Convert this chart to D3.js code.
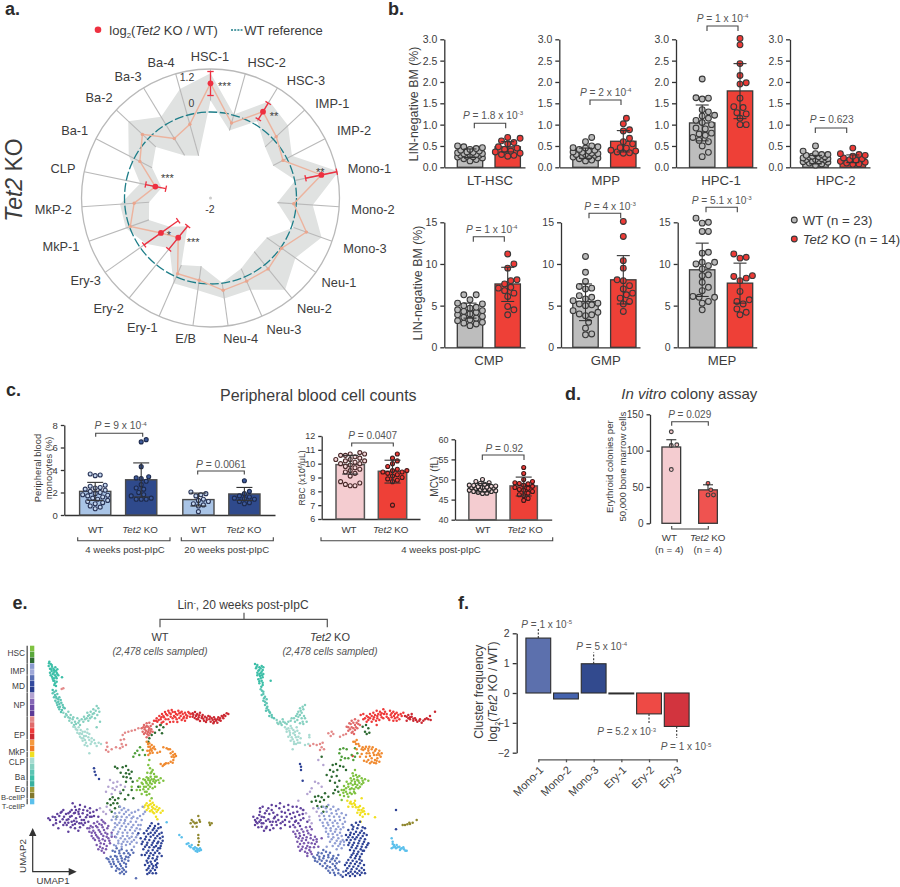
<!DOCTYPE html>
<html><head><meta charset="utf-8">
<script src="https://cdn.jsdelivr.net/npm/d3@7"></script>
<style>html,body{margin:0;padding:0;background:#fff}svg{display:block;font-family:"Liberation Sans",Arial,sans-serif}</style>
</head><body><div id="c"></div>
<script>
// ---------- a. radial ----------
const radialCats=["HSC-1","HSC-2","HSC-3","IMP-1","IMP-2","Mono-1","Mono-2","Mono-3","Neu-1","Neu-2","Neu-3","Neu-4","E/B","Ery-1","Ery-2","Ery-3","MkP-1","MkP-2","CLP","Ba-1","Ba-2","Ba-3","Ba-4"];
const radialMean=[.80,-.19,.42,.11,-.10,.76,-.06,.44,.03,.15,.13,.20,-.07,-.08,-.81,-.59,-.02,-.22,-.69,-.15,.20,-.38,-.22];
const radialUpper=[1.08,.02,.76,.56,.16,1.25,.46,.89,.50,.90,.39,.43,.20,.19,-.49,-.16,.11,.13,-.33,.17,.74,.25,.76];
const radialLower=[.32,-.37,.11,-.26,-.36,.02,-.44,.06,-.40,-.39,-.21,-.01,-.40,-.30,-1.15,-.84,-.48,-.57,-.84,-.47,-.26,-.84,-.98];
const radialSig=[["HSC-1",.46,1.13,"***"],["HSC-3",.17,.70,"**"],["Mono-1",.31,1.2,"**"],["Ery-2",-1.16,-.46,"***"],["Ery-3",-1.08,-.11,"*"],["CLP",-.94,-.46,"***"]];
// ---------- b. bars ----------
const ltWT=[.15,.18,.2,.22,.24,.25,.26,.28,.28,.3,.3,.32,.32,.34,.35,.36,.38,.4,.42,.44,.46,.48,.5];
const ltKO=[.26,.28,.3,.33,.36,.38,.42,.45,.48,.55,.58,.62,.68,.7];
const mppWT=[.15,.17,.2,.22,.24,.25,.26,.28,.3,.3,.32,.33,.35,.36,.38,.4,.42,.45,.46,.48,.5,.6,.7];
const mppKO=[.33,.34,.36,.38,.4,.45,.46,.55,.6,.68,.85,.88,1.02,1.15];
const hpc1WT=[.25,.35,.5,.6,.63,.7,.75,.78,.8,.9,.92,1.0,1.05,1.1,1.15,1.2,1.22,1.3,1.35,1.6,1.62,1.63,2.07];
const hpc1KO=[1.0,1.0,1.15,1.25,1.28,1.4,1.42,1.62,1.95,1.98,2.15,2.43,2.87,3.02];
const hpc2WT=[.05,.08,.1,.12,.13,.15,.15,.17,.18,.18,.2,.2,.22,.24,.25,.25,.26,.28,.3,.3,.32,.38,.5];
const hpc2KO=[.07,.08,.1,.12,.14,.17,.18,.2,.22,.26,.28,.3,.32,.45];
const cmpWT=[2.6,2.8,2.9,3,3.2,3.3,3.5,3.6,3.7,3.9,4,4.2,4.3,4.4,4.5,4.7,4.8,5,5.2,5.3,5.7,6.3,6.3];
const cmpKO=[3.9,4.5,4.9,6.1,6.5,6.8,7.1,7.2,7.6,8,8.1,9.5,10,11.2];
const gmpWT=[1.5,1.6,2.3,3.0,3.8,3.9,4.0,4.2,4.4,5,5.1,5.2,5.3,5.6,5.8,6,6.2,7,7.1,7.3,7.9,9,10.9];
const gmpKO=[4.3,5.2,5.5,5.9,6.3,6.5,7,7.4,8,8.1,9.5,10.4,13.3,15.1];
const mepWT=[4.5,5.3,5.5,6,6,6.1,6.8,7.2,7.8,8.6,8.7,9.4,9.8,10,10.2,10.2,11.3,11.4,13.9,13.9,14.9,15,15.5];
const mepKO=[3.9,4.2,4.6,5.2,5.5,5.7,6.7,8,8.3,8.5,8.6,10.7,10.8,11.2];
const bNames=["LT-HSC","MPP","HPC-1","HPC-2","CMP","GMP","MEP"];
const bMeans=[[.33,.48],[.33,.61],[1.04,1.79],[.18,.20],[4.4,7.6],[5.5,8.1],[9.3,7.7]];
const bLow=[[.23,.36],[.21,.36],[.62,1.14],[.08,.11],[3.5,5.5],[3.2,5.2],[6.1,5.3]];
const bHigh=[[.43,.60],[.45,.86],[1.46,2.43],[.28,.29],[5.3,9.6],[7.6,11],[12.5,10.1]];
const bP=["<i>P</i> = 1.8 x 10<sup>-3</sup>","<i>P</i> = 2 x 10<sup>-4</sup>","<i>P</i> = 1 x 10<sup>-4</sup>","<i>P</i> = 0.623","<i>P</i> = 1 x 10<sup>-4</sup>","<i>P</i> = 4 x 10<sup>-3</sup>","<i>P</i> = 5.1 x 10<sup>-3</sup>"];
// ---------- c. peripheral blood ----------
const monoGroups=["WT","<i>Tet2</i> KO","WT ","<i>Tet2</i> KO "];
const monoMeans=[2.1,3.13,1.37,1.87], monoLow=[1.3,1.6,.8,1.3], monoHigh=[2.9,4.63,1.95,2.45];
const mono4WT=[.55,.7,.8,1,1.1,1.2,1.3,1.4,1.5,1.6,1.7,1.75,1.8,1.9,2,2.1,2.2,2.3,2.4,2.45,2.55,2.65,3.5,3.55,3.65];
const mono4KO=[1.4,1.4,1.4,1.5,1.7,1.8,2,2.3,2.4,2.7,3,3.25,3.3,3.4,4.3,6.5,6.7];
const mono20WT=[.3,.8,.9,1.0,1.2,1.3,1.4,1.7,1.8,1.9,2.05];
const mono20KO=[1,1.1,1.2,1.4,1.45,1.5,1.6,1.7,1.9,2.1,3.05];
const rbcMeans=[9.93,9.45], rbcLow=[9.25,8.6], rbcHigh=[10.6,10.25];
const rbcWT=[8.4,8.4,8.5,8.6,8.7,9.1,9.3,9.4,9.5,9.6,9.7,9.8,9.9,10,10,10.1,10.2,10.2,10.3,10.3,10.4,10.5,10.6,10.6,10.7,10.7,10.8];
const rbcKO=[7,8.7,8.8,8.9,9.0,9.1,9.2,9.3,9.4,9.4,9.5,9.5,9.6,9.8,10,10.2,10.4,10.7];
const mcvMeans=[47.9,48.4], mcvLow=[46.9,45.9], mcvHigh=[49,50.6];
const mcvWT=[46.5,46.6,46.8,47,47,47.2,47.3,47.4,47.5,47.6,47.8,47.9,48,48,48.1,48.2,48.3,48.4,48.5,48.6,48.8,49,49.2,49.5,50];
const mcvKO=[44.8,45.3,46,46.2,46.6,47,47.3,47.5,47.8,48,48.3,48.6,48.9,49,49.2,49.5,50,51.5,53];
// ---------- d. colony ----------
const colMeans=[105,46], colLow=[105,46], colHigh=[115,53];
const colWT=[74,107,108,126], colKO=[39,39,46,55];
// ---------- f. cluster frequency ----------
const freqCats=["Mono-1","Mono-2","Mono-3","Ery-1","Ery-2","Ery-3"];
const freqVals=[1.84,-.2,.98,-.03,-.7,-1.12];
const freqColors=["#5c70ad","#4563ae","#324a8e","#222222","#ee4a45","#d2343e"];
// ---------- e. UMAP embedding, one small list per cluster ----------
const legendGroups=[["HSC",3],["IMP",2],["MD",3],["NP",4],["EP",4],["MkP",2],["CLP",1],["Ba",4],["Eo",1],["B-cellP",2],["T-cellP",1]];
const legendColors=["#7fc241","#5aa83c","#2e6a32","#8b9bd0","#9fa8d8","#5a6fb4","#33499e","#2a3d8f","#b3a3d1","#8567b5","#6d4aa6","#5b3a96","#e38a8a","#e06a6a","#ee3a3a","#cc2a33","#f59a3f","#f07a25","#f0e021","#a8dbd1","#85d0c0","#5cc4b3","#3dbfa8","#38b0a0","#a09a3a","#80772d","#5bc0ec"];
const wtBa4=[[148,215],[152,222],[146,228],[156,230],[150,236],[160,236],[166,232],[172,238],[155,243],[163,245],[170,248],[150,248],[158,252],[165,256],[175,256],[156,260],[162,265],[170,265],[186,262],[160,272],[165,280],[168,288],[158,300],[147,220],[155,225],[162,240],[153,238],[168,242],[160,250],[172,252],[152,256],[168,260],[163,272],[170,275],[158,266],[163,285]];
const wtBa3=[[158,310],[165,315],[172,312],[162,322],[170,325],[178,322],[166,332],[175,335],[182,330],[172,345],[180,350],[188,345],[178,358],[186,360],[194,355],[163,306],[168,320],[175,328],[170,338],[178,342],[184,338],[175,352],[190,352],[183,366],[168,302]];
const wtBa2=[[190,368],[198,372],[205,365],[195,380],[205,382],[212,375],[208,392],[218,388],[225,395],[232,385],[228,402],[238,392],[245,388],[252,380],[260,385],[268,375],[262,368],[272,365],[280,358],[290,348],[295,355],[282,370],[275,380],[298,365],[250,395],[240,405],[285,385],[300,395],[290,412],[200,376],[210,385],[220,382],[215,398],[222,405],[235,398],[255,388],[265,392],[270,385],[278,372],[287,362],[292,375],[264,378]];
const wtBa1=[[220,410],[228,418],[236,412],[242,420],[232,428],[246,432],[255,425],[262,418],[240,440],[250,445],[258,438],[268,432],[248,452],[258,458],[268,450],[275,445],[262,468],[272,462],[285,460],[296,458],[303,462],[268,490],[290,468],[225,412],[232,420],[248,425],[238,432],[252,438],[262,428],[245,445],[255,450],[265,442],[254,465],[275,455],[282,450],[240,430]];
const wtEry1=[[320,458],[322,470],[318,480],[325,485],[335,478],[348,472],[360,475],[365,462],[372,448],[368,435],[375,428],[385,425],[395,422],[405,420],[415,415],[368,470],[378,465],[362,450],[185,297],[190,295]];
const wtEry2=[[425,415],[432,405],[440,400],[448,398],[436,412],[444,410],[452,408],[458,402],[428,425],[438,422],[446,420],[454,418],[432,432],[442,432],[450,430],[440,442],[458,425],[430,412],[440,408],[448,415],[436,428],[444,426],[452,424],[446,436],[434,418]];
const wtEry3=[[462,392],[470,385],[478,378],[486,372],[495,366],[505,362],[515,360],[525,366],[535,362],[545,365],[555,368],[565,366],[472,395],[482,388],[492,382],[502,376],[512,372],[522,378],[532,374],[542,378],[552,380],[562,378],[572,372],[490,395],[505,388],[518,385],[530,388],[545,390],[480,405],[500,402],[540,368],[520,395],[468,392],[476,390],[484,382],[490,378],[498,372],[508,368],[518,366],[528,372],[538,370],[548,372],[558,374],[568,370],[497,388],[512,380],[526,382],[538,384],[550,385],[560,384],[570,380],[485,398],[510,396],[532,396],[555,392]];
const wtEry4=[[578,370],[585,366],[592,372],[600,368],[608,375],[578,380],[588,378],[596,382],[605,384],[615,380],[625,378],[635,385],[645,388],[655,382],[665,378],[672,375],[680,370],[685,372],[620,390],[632,395],[642,396],[652,398],[662,392],[670,385],[612,392],[600,393],[590,388],[658,390],[580,374],[590,374],[598,376],[606,380],[584,384],[594,388],[610,386],[620,384],[628,388],[638,390],[648,392],[660,385],[668,380],[676,378],[630,380],[642,382],[652,388],[618,396],[640,400]];
const wtHsc3=[[470,410],[482,405],[490,412],[478,420],[486,430],[465,428],[455,435],[448,445],[445,455],[345,530],[352,535],[368,532],[378,528],[385,540],[378,550],[388,552],[395,545],[380,562],[392,565],[370,560],[398,575],[362,548],[378,575],[330,628],[338,622],[345,630],[352,640],[340,640],[332,645],[358,650],[345,655],[322,640],[355,625],[375,628],[385,615],[395,600],[362,610],[370,600],[335,665],[350,680],[400,625],[415,590]];
const wtHsc2=[[405,490],[412,482],[420,472],[428,480],[418,495],[400,500],[435,495]];
const wtHsc1=[[448,510],[445,525],[450,535],[442,548],[455,545],[462,552],[470,560],[452,560],[440,562],[430,568],[418,565],[412,572],[425,578],[438,575],[450,572],[462,568],[475,570],[490,572],[482,565],[445,585],[455,582],[465,578],[432,590],[445,597],[420,590],[435,605],[425,612],[440,615],[410,600],[448,612],[455,625],[465,590],[458,540],[395,590],[435,570],[445,565],[455,568],[465,560],[478,578],[440,580],[450,578],[460,574],[428,582],[438,590],[450,590],[458,595],[430,598],[440,605],[420,600],[445,570],[468,572],[452,550]];
const wtClp=[[432,652],[440,640],[448,645],[456,650],[445,655],[455,660],[462,645],[470,650],[478,655],[488,662],[470,665],[462,670],[468,680],[472,688],[450,632],[440,660],[482,668],[458,638],[444,648],[452,642],[460,655],[466,658],[474,660],[450,664],[458,666],[436,646]];
const wtMkp=[[440,455],[448,460],[455,465],[445,470],[452,478],[462,470],[442,482],[450,490],[458,488],[445,495],[465,478],[472,488],[480,485],[490,472],[500,475],[510,478],[518,485],[525,492],[528,498],[515,500],[520,510],[518,518],[505,520],[495,522],[482,522],[488,528],[512,490],[444,462],[450,470],[458,475],[448,482],[455,482],[505,478],[520,495],[522,502],[512,515],[498,520],[492,524]];
const wtNp1=[[330,570],[340,578],[352,575],[325,590],[338,595],[350,590],[362,585],[318,605],[335,612],[375,590],[320,650],[330,660],[318,672],[310,665],[300,655],[345,600],[360,605]];
const wtNp4=[[158,680],[145,685],[172,672],[185,665],[168,690],[180,695],[192,680],[205,670],[215,660],[225,650],[240,645],[255,650],[270,655],[160,705],[175,715],[190,705],[200,690],[210,680],[222,670],[235,665],[248,670],[200,705],[215,695],[228,685],[240,680],[252,690],[262,675],[212,712],[225,702],[238,700],[250,705],[265,695],[280,665],[290,660],[218,640],[235,722],[275,680],[205,725],[295,680],[190,660],[150,690],[165,682],[178,678],[188,688],[195,698],[205,688],[215,678],[225,668],[238,658],[250,660],[262,662],[205,698],[218,705],[230,695],[245,690],[258,682],[210,665],[228,660],[198,672],[222,692],[236,672],[244,700],[255,698],[270,680],[182,668],[168,700],[240,712],[225,715],[282,678],[270,668]];
const wtNp3=[[262,715],[272,708],[282,700],[292,695],[305,690],[268,725],[280,722],[292,712],[305,705],[315,700],[275,738],[288,735],[300,725],[312,720],[322,715],[285,750],[296,745],[310,738],[322,732],[335,728],[290,765],[302,760],[315,752],[325,745],[295,778],[308,775],[320,768],[330,760],[312,788],[345,740],[268,715],[278,712],[288,708],[298,702],[310,695],[275,728],[285,728],[296,720],[308,712],[280,745],[292,740],[304,732],[316,728],[298,752],[308,748],[320,740],[300,770],[312,762],[328,752],[318,778],[305,782],[335,740],[325,708]];
const wtImp=[[360,650],[372,655],[385,660],[345,670],[358,668],[372,672],[388,675],[400,680],[415,660],[428,650],[435,665],[420,678],[335,690],[348,688],[362,690],[375,692],[392,695],[408,695],[425,690],[352,705],[365,708],[378,710],[395,712],[410,715],[422,705],[340,720],[355,725],[368,728],[382,728],[398,730],[412,735],[348,742],[362,745],[375,748],[388,745],[402,750],[365,762],[378,765],[390,762],[355,760],[342,765],[402,770],[375,690],[405,665],[365,660],[378,665],[395,668],[340,680],[352,680],[365,680],[380,682],[395,685],[412,685],[430,672],[345,700],[358,698],[372,700],[385,702],[400,705],[415,705],[345,712],[360,716],[375,720],[390,720],[405,722],[420,718],[335,735],[352,732],[368,738],[382,738],[395,740],[408,742],[355,752],[370,755],[382,755],[395,755],[410,758],[365,770],[348,768]];
const wtMd1=[[320,805],[332,800],[345,798],[358,790],[328,815],[340,815],[352,808],[365,805],[378,800],[390,795],[335,830],[348,828],[360,822],[372,818],[385,812],[348,842],[358,838],[368,835],[378,830],[360,850],[372,852],[378,845],[408,865],[395,780],[380,782],[365,778],[350,775],[338,782],[325,808],[338,808],[350,800],[362,798],[375,808],[385,802],[332,822],[342,822],[355,815],[366,812],[378,822],[352,835],[363,828],[372,840],[366,845],[345,785],[358,782],[372,790],[385,790],[400,788]];
const wtMd3=[[455,700],[465,708],[475,702],[482,712],[445,715],[458,720],[470,722],[485,728],[432,730],[445,732],[460,735],[472,738],[488,740],[422,745],[435,748],[448,750],[462,752],[475,755],[488,752],[425,762],[440,765],[455,765],[468,768],[482,768],[430,778],[445,782],[458,780],[472,782],[480,775],[435,795],[448,798],[460,795],[472,800],[485,798],[440,812],[452,815],[465,812],[435,825],[448,828],[460,828],[472,820],[440,840],[452,842],[465,840],[442,852],[468,850],[415,730],[425,795],[282,535],[284,545],[287,555],[297,567],[450,708],[462,715],[475,715],[440,722],[452,728],[465,728],[478,732],[438,740],[452,740],[466,745],[480,745],[428,755],[442,758],[458,758],[472,760],[484,760],[435,770],[448,772],[462,772],[475,775],[440,788],[452,790],[465,788],[478,790],[445,805],[458,805],[470,808],[443,818],[455,822],[468,825],[445,835],[458,835],[470,832],[448,848],[458,850]];
const wtB=[[575,690],[580,695],[572,700],[585,700],[590,698],[578,710],[590,710],[600,695],[595,678],[598,690],[628,698],[635,700],[630,705],[595,735],[595,745],[597,755],[595,765]];
const wtT=[[560,762],[568,768],[575,765],[585,772],[592,780],[600,775],[592,785],[598,782],[580,775],[538,735],[545,742],[500,697],[565,760],[572,772],[582,778],[590,775],[595,778],[603,780],[587,783]];

const koBa4=[[105,222],[112,225],[118,232],[125,228],[130,232],[108,235],[118,240],[128,240],[112,248],[122,250],[130,252],[120,258],[128,262],[152,272],[115,268],[125,272],[118,280],[128,285],[110,230],[122,235],[115,242],[125,245],[118,252],[126,256],[112,256],[122,265],[118,274],[128,278],[124,290]];
const koBa3=[[122,298],[130,305],[125,315],[135,320],[130,332],[140,328],[135,345],[142,350],[145,360],[138,362],[150,368],[155,375],[162,385],[148,378],[126,302],[130,312],[132,325],[135,335],[140,340],[140,355],[148,365],[156,382]];
const koBa2=[[170,390],[180,395],[188,388],[175,402],[185,405],[195,398],[205,395],[215,385],[228,378],[235,365],[240,355],[248,350],[255,345],[245,368],[235,380],[245,385],[260,395],[225,395],[252,378],[240,400],[250,402],[172,398],[182,400],[190,395],[200,402],[212,392],[222,385],[232,372],[242,362],[250,358],[240,375],[232,390],[255,385],[248,395]];
const koBa1=[[195,412],[205,415],[212,408],[200,425],[210,428],[220,420],[230,412],[205,440],[215,442],[225,435],[238,430],[212,452],[222,455],[232,450],[242,445],[228,462],[240,458],[218,478],[255,465],[268,435],[268,442],[265,462],[200,418],[208,422],[215,415],[225,425],[210,435],[220,430],[232,422],[218,448],[228,442],[235,440],[222,462],[234,458]];
const koEry1=[[270,467],[280,462],[290,465],[300,462],[308,458],[305,472],[312,478],[325,430],[332,438],[340,432],[335,425],[300,480],[360,440],[370,435],[378,432]];
const koEry2=[[380,410],[388,400],[395,392],[405,388],[415,392],[385,422],[395,412],[405,405],[415,402],[395,428],[405,420],[412,415],[420,405],[402,432],[385,412],[392,402],[400,398],[410,398],[390,418],[400,415],[408,412],[398,425]];
const koEry3=[[422,375],[430,372],[440,378],[450,372],[460,368],[470,362],[480,365],[490,358],[450,385],[462,382],[472,378],[482,375],[492,372],[440,395],[455,395],[468,392],[478,390],[490,385],[500,380],[510,362],[520,365],[530,368],[512,375],[522,378],[532,382],[542,372],[550,368],[508,390],[520,392],[538,388],[470,405],[430,388],[398,498],[435,385],[445,382],[455,378],[465,375],[475,372],[485,370],[495,365],[445,390],[460,388],[472,385],[485,382],[515,370],[525,372],[535,375],[545,378],[515,382],[525,385],[530,392],[500,372],[505,385]];
const koEry4=[[555,378],[565,375],[575,380],[585,385],[570,388],[580,392],[592,395],[600,388],[610,392],[620,385],[630,378],[632,390],[645,365],[605,398],[560,392],[560,380],[570,382],[580,386],[588,390],[598,392],[615,388],[625,388],[575,372],[565,385]];
const koHsc3=[[428,410],[438,405],[445,415],[435,425],[448,428],[440,432],[305,500],[338,525],[348,522],[360,528],[330,540],[340,545],[352,540],[320,555],[335,560],[350,558],[358,572],[345,578],[330,572],[370,530],[378,540],[352,590],[285,620],[295,618],[305,622],[275,635],[288,632],[300,635],[312,630],[292,648],[305,650],[315,610],[325,620],[340,610],[320,650],[310,665],[345,600],[355,605]];
const koHsc2=[[360,478],[370,475],[380,478],[358,490],[365,500],[395,495],[405,500],[412,490],[400,510],[385,505],[375,505],[405,475],[362,510]];
const koHsc1=[[405,540],[398,550],[408,555],[418,558],[392,565],[402,568],[412,570],[425,565],[435,568],[445,572],[380,575],[392,580],[405,582],[418,578],[430,578],[372,588],[385,590],[395,595],[408,592],[420,590],[365,600],[378,605],[390,608],[402,605],[360,615],[372,618],[385,620],[405,610],[365,630],[400,558],[412,562],[395,572],[405,575],[415,572],[428,572],[385,582],[398,585],[412,585],[425,583],[378,595],[390,598],[402,598],[415,595],[370,608],[382,612],[395,612],[372,600]];
const koClp=[[382,632],[392,635],[402,640],[385,650],[398,650],[408,652],[420,648],[430,655],[418,660],[428,665],[435,672],[420,675],[412,668],[428,680],[445,672],[465,682],[405,632],[425,625],[422,695],[395,642],[405,645],[415,652],[425,660],[422,668],[432,664],[415,660],[390,640]];
const koMkp=[[400,455],[410,450],[408,462],[418,468],[428,472],[438,470],[448,470],[458,472],[468,478],[478,482],[485,490],[482,500],[470,495],[430,480],[445,482],[410,478],[425,492],[438,500],[450,498],[462,495],[470,512],[462,518],[450,520],[440,515],[478,515],[455,505],[432,512],[420,500],[405,455],[415,462],[425,478],[435,476],[445,476],[455,478],[465,482],[475,490],[478,495],[440,490],[448,490],[460,488],[472,505],[465,510],[445,510],[455,515],[468,520]];
const koNp1=[[310,525],[295,510],[270,605],[262,612],[285,575],[295,580],[305,590],[275,595],[248,660],[258,670],[268,680],[235,632],[280,655],[290,665],[298,678],[275,700],[268,690]];
const koNp4=[[100,680],[105,690],[112,700],[125,710],[120,655],[128,650],[135,670],[145,655],[155,645],[168,648],[180,640],[192,650],[205,645],[218,650],[230,650],[242,655],[112,685],[122,690],[130,700],[140,710],[150,720],[118,675],[132,682],[145,688],[158,695],[170,705],[182,715],[148,672],[160,668],[172,675],[185,680],[195,690],[208,695],[220,705],[235,700],[178,655],[195,668],[210,672],[225,680],[238,675],[250,685],[105,705],[115,712],[132,722],[160,715],[250,660],[262,695],[108,695],[118,695],[125,680],[138,692],[150,695],[162,685],[175,690],[188,695],[200,680],[215,685],[228,692],[242,690],[125,700],[138,715],[155,705],[168,695],[182,700],[195,705],[210,710],[225,695],[140,662],[155,660],[165,680],[185,665],[205,660],[220,668],[232,665],[248,672],[240,708],[120,665]];
const koNp3=[[220,725],[232,722],[245,718],[258,712],[270,710],[228,740],[240,738],[252,735],[265,730],[232,755],[245,752],[258,750],[272,745],[285,740],[235,770],[248,770],[262,768],[275,760],[290,755],[240,782],[255,785],[268,780],[282,772],[295,770],[262,798],[275,792],[305,745],[226,732],[238,730],[250,725],[262,722],[275,718],[236,745],[248,745],[260,742],[272,735],[240,762],[252,760],[265,758],[280,750],[245,778],[258,775],[270,772],[285,762],[262,790],[272,785],[290,748],[225,712]];
const koImp=[[295,655],[310,650],[325,645],[340,650],[355,658],[305,670],[320,665],[335,670],[350,672],[365,670],[378,675],[300,690],[315,688],[330,690],[345,692],[360,690],[375,695],[310,708],[325,705],[340,708],[355,710],[370,712],[318,725],[332,722],[345,725],[360,728],[325,740],[340,742],[355,745],[368,750],[330,755],[345,760],[360,762],[350,778],[365,775],[372,765],[320,770],[318,655],[332,658],[348,662],[312,678],[328,678],[342,680],[358,680],[372,684],[308,698],[322,698],[338,698],[352,700],[368,702],[318,715],[332,715],[348,718],[362,718],[325,732],[338,732],[352,735],[365,738],[335,748],[350,752],[362,755],[338,768],[355,768],[372,755]];
const koMd1=[[280,800],[292,795],[305,790],[318,785],[330,788],[285,812],[298,808],[310,805],[325,802],[340,798],[355,795],[300,822],[315,820],[330,815],[345,812],[318,835],[330,832],[345,828],[358,815],[330,848],[342,848],[355,840],[362,855],[370,845],[285,805],[298,800],[312,798],[325,795],[338,805],[350,805],[292,815],[305,812],[320,812],[335,808],[308,828],[322,828],[338,822],[350,820],[325,842],[338,840],[348,835],[345,855],[355,850],[295,788],[310,780]];
const koMd3=[[395,705],[408,698],[420,695],[435,715],[385,720],[398,718],[412,715],[425,722],[378,735],[390,735],[402,732],[415,735],[428,738],[440,735],[380,750],[392,750],[405,748],[418,752],[432,755],[445,760],[385,765],[398,765],[412,768],[425,770],[438,772],[390,780],[402,782],[415,785],[428,782],[395,795],[408,798],[420,800],[385,810],[398,812],[410,815],[425,812],[375,825],[388,828],[400,830],[415,828],[432,825],[378,842],[392,845],[405,845],[418,842],[432,840],[390,858],[405,858],[420,855],[435,850],[368,860],[240,522],[243,530],[243,540],[248,572],[528,660],[528,718],[400,710],[415,705],[428,712],[392,728],[408,725],[420,728],[432,730],[385,742],[398,742],[410,742],[422,745],[435,748],[388,758],[402,758],[415,760],[428,762],[442,765],[395,772],[408,775],[422,778],[432,782],[400,790],[412,792],[425,792],[392,802],[405,805],[418,808],[380,818],[392,820],[405,822],[420,820],[382,835],[395,838],[410,836],[425,834],[385,850],[398,852],[412,850],[425,848],[378,855]];
const koB=[[548,705],[555,705],[562,703],[570,702],[578,698],[590,690],[568,698]];
const koT=[[515,745],[518,755],[522,765],[520,772],[530,765],[538,770],[545,775],[552,778],[560,782],[515,775],[528,775],[540,780],[518,762],[525,770],[533,772],[542,776],[550,772],[556,782]];
const umapClusters=[[wtBa4,koBa4,"#3dbfa8"],[wtBa3,koBa3,"#5cc4b3"],[wtBa2,koBa2,"#85d0c0"],[wtBa1,koBa1,"#a8dbd1"],[wtEry1,koEry1,"#e38a8a"],[wtEry2,koEry2,"#e06a6a"],[wtEry3,koEry3,"#ee3a3a"],[wtEry4,koEry4,"#cc2a33"],[wtHsc3,koHsc3,"#2e6a32"],[wtHsc2,koHsc2,"#4e9e3a"],[wtHsc1,koHsc1,"#7fc241"],[wtClp,koClp,"#f0e021"],[wtMkp,koMkp,"#f08a30"],[wtNp1,koNp1,"#b3a3d1"],[wtNp4,koNp4,"#5f409c"],[wtNp3,koNp3,"#7a58ad"],[wtImp,koImp,"#929fd4"],[wtMd1,koMd1,"#5a6fb4"],[wtMd3,koMd3,"#2f4396"],[wtB,koB,"#90882f"],[wtT,koT,"#5bc0ec"]];

// ---------- helpers ----------
const svg=d3.select("#c").append("svg").attr("width",900).attr("height",887);
const INK="#3c3c3c", GREY="#555";
function rich(t,s,fs){
  const parts=s.split(/(<i>.*?<\/i>|<sup>.*?<\/sup>|<sub>.*?<\/sub>)/);
  let back=0;
  parts.forEach(p=>{ if(!p) return;
    const ts=t.append("tspan");
    let m;
    if((m=p.match(/^<i>(.*)<\/i>$/))){ts.attr("font-style","italic").text(m[1]);}
    else if((m=p.match(/^<sup>(.*)<\/sup>$/))){ts.attr("font-size",fs*.6).attr("dy",-fs*.35-0+back).text(m[1]);back=fs*.35;return;}
    else if((m=p.match(/^<sub>(.*)<\/sub>$/))){ts.attr("font-size",fs*.6).attr("dy",fs*.25+back).text(m[1]);back=-fs*.25;return;}
    else ts.text(p);
    if(back){ts.attr("dy",back);back=0;}
  });
}
function txt(x,y,s,o={}){
  const fs=o.size||10.5;
  const t=svg.append("text").attr("font-size",fs).attr("fill",o.fill||INK).attr("text-anchor",o.anchor||"middle").attr("dy",".35em");
  if(o.weight)t.attr("font-weight",o.weight);
  if(o.style)t.attr("font-style",o.style);
  if(o.rotate!=null)t.attr("transform",`translate(${x},${y}) rotate(${o.rotate})`);else t.attr("x",x).attr("y",y);
  rich(t,s,fs);return t;
}
function bracket(x1,x2,y,drop,c){svg.append("path").attr("d",`M${x1},${y+drop}V${y}H${x2}V${y+drop}`).attr("fill","none").attr("stroke",c||"#444").attr("stroke-width",1.1);}
function swarm(vals,y,d,cx,maxOff){
  const placed=[];
  vals.slice().sort((a,b)=>a-b).forEach(v=>{
    const py=y(v);let best=null,bestD=-1;
    for(let k=0;;k++){
      const off=(k%2?1:-1)*Math.ceil(k/2)*d/2;
      if(Math.abs(off)>maxOff)break;
      const md=d3.min(placed,p=>Math.hypot(p.x-(cx+off),p.y-py));
      const dist=md===undefined?99:md;
      if(dist>=d){best=off;bestD=dist;break;}
      if(dist>bestD){bestD=dist;best=off;}
    }
    placed.push({x:cx+best,y:py});
  });
  return placed;
}
function barPanel(c){
  const y=d3.scaleLinear().domain(c.domain).range(c.range);
  const pos=i=>c.centers[i];
  const g=svg.append("g");
  const ax=g.append("g").attr("transform",`translate(${c.axisX},0)`).call(d3.axisLeft(y).tickValues(c.ticks).tickSize(c.tick||4).tickSizeOuter(0).tickFormat(c.fmt||d3.format("")));
  ax.selectAll("text").attr("font-size",c.tickFont||10.5).attr("fill",INK).attr("font-family","Liberation Sans");
  ax.selectAll("line,path").attr("stroke","#333").attr("stroke-width",c.axW||1.3);
  if(c.baseEnd){
    const bx=d3.scaleLinear().domain([0,1]).range([c.axisX,c.baseEnd]);
    const bl=g.append("g").attr("transform",`translate(0,${c.range[0]})`).call(d3.axisBottom(bx).tickValues([]).tickSizeOuter(0));
    bl.selectAll("path").attr("stroke","#333").attr("stroke-width",c.axW||1.3);
  }
  const bars=c.means.map((m,i)=>({m,i}));
  g.selectAll("rect.b").data(bars).join("rect").attr("class","b")
    .attr("x",d=>pos(d.i)-c.barW/2).attr("width",c.barW)
    .attr("y",d=>y(d.m)).attr("height",d=>c.range[0]-y(d.m))
    .attr("fill",d=>c.fills[d.i]).attr("stroke",c.barStroke||"#3a3a3a").attr("stroke-width",c.barSW||1.3);
  c.dots.forEach((vals,i)=>{
    g.selectAll(null).data(swarm(vals,y,c.swarmD,pos(i),c.barW/2+1)).join("circle")
      .attr("cx",d=>d.x).attr("cy",d=>d.y).attr("r",c.r)
      .attr("fill",c.dotFill[i]).attr("stroke",c.dotStroke[i]).attr("stroke-width",c.dotSW||1.1);
  });
  c.means.forEach((m,i)=>{
    const w=c.cap, cx=pos(i), e=g.append("g").attr("stroke","#333").attr("stroke-width",1.1);
    e.append("line").attr("x1",cx).attr("x2",cx).attr("y1",y(c.low[i])).attr("y2",y(c.high[i]));
    e.append("line").attr("x1",cx-w).attr("x2",cx+w).attr("y1",y(c.high[i])).attr("y2",y(c.high[i]));
    if(c.low[i]!==m)e.append("line").attr("x1",cx-w).attr("x2",cx+w).attr("y1",y(c.low[i])).attr("y2",y(c.low[i]));
  });
}

// ---------- panel letters ----------
[["a.",5,9],["b.",388,9],["c.",6,390],["d.",565,394],["e.",12.5,603],["f.",458,602.5]].forEach(l=>txt(l[1],l[2],l[0],{size:18,weight:"bold",anchor:"start",fill:"#2b2b2b"}));

// ---------- panel a ----------
(function(){
  const cx=210.5,cy=198,R=129,n=radialCats.length;
  const r=d3.scaleLinear().domain([-2,0,1.2]).range([0,86,R]);
  const ang=d3.scaleLinear().domain([0,n]).range([0,2*Math.PI]);
  const g=svg.append("g").attr("transform",`translate(${cx},${cy})`);
  const rad=d3.lineRadial().curve(d3.curveLinearClosed).angle((d,i)=>ang(i)).radius(d=>r(d));
  const xy=(i,v)=>[r(v)*Math.sin(ang(i)),-r(v)*Math.cos(ang(i))];
  g.append("path").attr("d",rad(radialUpper)+rad(radialLower)).attr("fill","#e0e2e1").attr("fill-rule","evenodd");
  g.selectAll("line.s").data(radialCats).join("line").attr("class","s")
    .attr("x1",(d,i)=>xy(i,radialLower[i])[0]).attr("y1",(d,i)=>xy(i,radialLower[i])[1])
    .attr("x2",(d,i)=>R*Math.sin(ang(i))).attr("y2",(d,i)=>-R*Math.cos(ang(i)))
    .attr("stroke","#b9b9b9").attr("stroke-width",1.1);
  g.append("circle").attr("r",R).attr("fill","none").attr("stroke","#b9b9b9").attr("stroke-width",1.3);
  g.append("circle").attr("r",r(0)).attr("fill","none").attr("stroke","#1d7d88").attr("stroke-width",1.3).attr("stroke-dasharray","9,2.5");
  g.append("path").attr("d",rad(radialMean)).attr("fill","none").attr("stroke","#ecb39e").attr("stroke-width",1.4);
  g.selectAll("circle.m").data(radialMean).join("circle").attr("class","m")
    .attr("cx",(d,i)=>xy(i,d)[0]).attr("cy",(d,i)=>xy(i,d)[1]).attr("r",1.7).attr("fill","#e9a58e");
  g.append("circle").attr("r",1.5).attr("fill","#ccc");
  const starOff={"HSC-1":[14,1],"HSC-3":[11,2],"Mono-1":[-1,-5],"Ery-2":[15,2],"Ery-3":[8,0],"CLP":[12,-10]};
  radialSig.forEach(s=>{
    const i=radialCats.indexOf(s[0]),a=ang(i),p=xy(i,radialMean[i]),lo=xy(i,s[1]),hi=xy(i,s[2]);
    const tx=Math.cos(a)*3.2,ty=Math.sin(a)*3.2;
    const e=g.append("g").attr("stroke","#ee3040").attr("stroke-width",1.3);
    e.append("line").attr("x1",lo[0]).attr("y1",lo[1]).attr("x2",hi[0]).attr("y2",hi[1]);
    [lo,hi].forEach(q=>e.append("line").attr("x1",q[0]-tx).attr("y1",q[1]-ty).attr("x2",q[0]+tx).attr("y2",q[1]+ty));
    g.append("circle").attr("cx",p[0]).attr("cy",p[1]).attr("r",2.9).attr("fill","#ee3040");
    const o=starOff[s[0]];
    txt(cx+p[0]+o[0],cy+p[1]+o[1]+2,s[3],{size:11});
  });
  const labelXY=[[630,170],[800,187],[918,241],[997,312],[1062,391],[1108,507],[1119,628],[1095,747],[1017,849],[943,925],[852,988],[722,1015],[557,1015],[427,982],[326,925],[257,843],[183,741],[160,628],[189,507],[224,391],[297,293],[384,229],[483,187]];
  radialCats.forEach((c,i)=>txt(labelXY[i][0]/3,labelXY[i][1]/3,c,{size:12.8}));
  txt(187,77.5,"1.2",{size:10.5});txt(191.3,103.7,"0",{size:10.5});txt(210,209,"-2",{size:10.5});
  txt(13.5,180,"<i>Tet2</i> KO",{size:23,rotate:-90});
  svg.append("circle").attr("cx",98).attr("cy",29.7).attr("r",3.3).attr("fill","#ee3040");
  txt(109.3,30,"log<sub>2</sub>(<i>Tet2</i> KO / WT)",{size:13,anchor:"start"});
  svg.append("line").attr("x1",231).attr("x2",242.5).attr("y1",30).attr("y2",30).attr("stroke","#1d7d88").attr("stroke-width",1.4).attr("stroke-dasharray","2,1.2");
  txt(244.3,30,"WT reference",{size:13,anchor:"start"});
})();

// ---------- panel b ----------
(function(){
  const dotsAll=[[ltWT,ltKO],[mppWT,mppKO],[hpc1WT,hpc1KO],[hpc2WT,hpc2KO],[cmpWT,cmpKO],[gmpWT,gmpKO],[mepWT,mepKO]];
  const layout=[
    {ax:444.3,c:[470,507.7],end:525,lab:490,row:0},
    {ax:559.3,c:[585.5,623.3],end:640,lab:605.7,row:0},
    {ax:676,c:[702.2,740],end:756.7,lab:721,row:0},
    {ax:790,c:[815.5,852.8],end:870,lab:835.7,row:0},
    {ax:444.3,c:[470,507.7],end:525,lab:489,row:1},
    {ax:561,c:[585.5,623.3],end:640,lab:605.7,row:1},
    {ax:677.7,c:[702.2,740],end:756.7,lab:722,row:1}];
  const br=[[474.3,505.7,123.3,115.3,493],[590,621,100,92.3,605.7],[707,738,26,18,722.5],[815.3,846.7,128,119.3,831.7],[473.3,504.3,236.7,229,491.7],[589,620.7,213.3,206,610],[706,737.3,207.3,200,721.7]];
  layout.forEach((l,i)=>{
    const row=l.row;
    barPanel({domain:[0,row?15:3],range:row?[347.3,222.3]:[167.3,39.3],ticks:row?[0,5,10,15]:[0,.5,1,1.5,2,2.5,3],fmt:row?d3.format("d"):d3.format(".1f"),
      axisX:l.ax,baseEnd:l.end,centers:l.c,barW:25.4,means:bMeans[i],low:bLow[i],high:bHigh[i],dots:dotsAll[i],fills:["#bdbdbd","#ee4037"],
      dotFill:["#b9b9b9","#ee3a36"],dotStroke:["#3a3a3a","#3a3a3a"],r:2.9,swarmD:6.2,cap:6.5,tick:4,tickFont:10.5});
    txt(l.lab,row?360:180,bNames[i],{size:13.2});
    const b=br[i];bracket(b[0],b[1],b[2],5);txt(b[4],b[3],bP[i],{size:10.2,fill:GREY});
  });
  txt(414,104,"LIN-negative BM (%)",{size:12.4,rotate:-90});
  txt(417.7,283,"LIN-negative BM (%)",{size:12.4,rotate:-90});
  [["WT (n = 23)","#b9b9b9",220],["<i>Tet2</i> KO (n = 14)","#ee3a36",239]].forEach(l=>{
    svg.append("circle").attr("cx",794.3).attr("cy",l[2]).attr("r",2.9).attr("fill",l[1]).attr("stroke","#3a3a3a").attr("stroke-width",1.1);
    txt(802.7,l[2],l[0],{size:13.2,anchor:"start"});
  });
})();

// ---------- panel c ----------
txt(318.3,395.7,"Peripheral blood cell counts",{size:16});
barPanel({domain:[0,8],range:[515,425],ticks:[0,2,4,6,8],axisX:64.3,baseEnd:275,centers:[95.2,141.2,198.4,244.4],barW:31.2,
  means:monoMeans,low:monoLow,high:monoHigh,dots:[mono4WT,mono4KO,mono20WT,mono20KO],fills:["#a9c4e6","#2f4a8c","#a9c4e6","#2f4a8c"],
  dotFill:["#c6d8f0","#3d5a9c","#c6d8f0","#3d5a9c"],dotStroke:["#2a3558","#1d2a4c","#2a3558","#1d2a4c"],r:2,swarmD:5,cap:8,tick:3.5,tickFont:9.5,barStroke:"#4a4a4a",barSW:1.4});
monoGroups.forEach((m,i)=>txt([95.7,140,198.7,243.7][i],530,m,{size:9.8}));
bracket(95.7,142.7,433.3,3.5);txt(120.7,425.7,"<i>P</i> = 9 x 10<sup>-4</sup>",{size:10.3,fill:GREY});
bracket(197.7,244.3,471,3.5);txt(221,464,"<i>P</i> = 0.0061",{size:10.3,fill:GREY});
bracket(77.7,170,540.7,-3.5);bracket(181.3,273.3,540.7,-3.5);
txt(125,550,"4 weeks post-pIpC",{size:9.6});txt(226.7,550,"20 weeks post-pIpC",{size:9.6});
txt(37.3,468,"Peripheral blood",{size:9.4,rotate:-90});txt(49,468,"monocytes (%)",{size:9.4,rotate:-90});
barPanel({domain:[6,12],range:[519,436],ticks:[6,7,8,9,10,11,12],axisX:321.7,baseEnd:420,centers:[350.2,392.5],barW:28.4,
  means:rbcMeans,low:rbcLow,high:rbcHigh,dots:[rbcWT,rbcKO],fills:["#f4ccd0","#ee4037"],dotFill:["#f6dadc","#ee3a36"],dotStroke:["#4a2a2a","#3f1a1a"],r:2,swarmD:4.8,cap:8,tick:3.5,tickFont:9,barStroke:"#555",barSW:1.5});
txt(349,530,"WT",{size:9.8});txt(390.7,530,"<i>Tet2</i> KO",{size:9.8});
bracket(351.7,393.3,443,3.5);txt(372.7,435,"<i>P</i> = 0.0407",{size:10,fill:GREY});
txt(301.7,478,"RBC (x10<sup>6</sup>/μL)",{size:8.6,rotate:-90});
barPanel({domain:[40,60],range:[519.7,439.3],ticks:[40,45,50,55,60],axisX:455,baseEnd:551.7,centers:[482.5,523.7],barW:27.3,
  means:mcvMeans,low:mcvLow,high:mcvHigh,dots:[mcvWT,mcvKO],fills:["#f4ccd0","#ee4037"],dotFill:["#f6dadc","#ee3a36"],dotStroke:["#2a2a2a","#3f1a1a"],r:2,swarmD:4.4,cap:8,tick:3.5,tickFont:9,barStroke:"#555",barSW:1.5});
txt(483,530,"WT",{size:9.8});txt(525,530,"<i>Tet2</i> KO",{size:9.8});
bracket(482.3,524,455,5);txt(504.3,448.3,"<i>P</i> = 0.92",{size:10,fill:GREY});
txt(434,476.7,"MCV (fL)",{size:10,rotate:-90});
bracket(321,552.7,540.7,-3.5);txt(441,550,"4 weeks post-pIpC",{size:9.6});

// ---------- panel d ----------
txt(689.3,393.3,"<i>In vitro</i> colony assay",{size:15});
barPanel({domain:[0,150],range:[523.3,414.3],ticks:[0,50,100,150],axisX:650,centers:[671.3,708],barW:18.7,means:colMeans,low:colLow,high:colHigh,dots:[colWT,colKO],
  fills:["#f4ccd0","#ef5350"],dotFill:["#f6c9cc","#ee5a58"],dotStroke:["#3a3a3a","#3a3a3a"],r:1.9,swarmD:5.5,cap:5,tick:3.5,tickFont:10});
svg.append("path").attr("d","M671.7,526V529H708.3V526").attr("fill","none").attr("stroke","#444").attr("stroke-width",1.1);
bracket(671.7,708.3,421.7,4);txt(689.7,414,"<i>P</i> = 0.029",{size:10,fill:GREY});
txt(609.3,466.7,"Erythroid  colonies per",{size:9.6,rotate:-90});txt(622.3,466.7,"50,000 bone marrow cells",{size:9.6,rotate:-90});
txt(669.3,538,"WT",{size:9.8});txt(669.3,550,"(n = 4)",{size:9.8});txt(707.7,538,"<i>Tet2</i> KO",{size:9.8});txt(707.7,550,"(n = 4)",{size:9.8});

// ---------- panel e ----------
(function(){
  const yb=d3.scaleBand().domain(d3.range(legendColors.length)).range([645.7,804.3]).paddingInner(.06);
  svg.selectAll("rect.leg").data(legendColors).join("rect").attr("class","leg").attr("x",30).attr("width",4.3)
    .attr("y",(d,i)=>yb(i)).attr("height",yb.bandwidth()).attr("fill",d=>d);
  const labelY=[653.3,670.7,686.3,705,735,751.7,761.7,776.7,789.3,797.3,806];
  let k=0;
  legendGroups.forEach((g,i)=>{
    svg.append("line").attr("x1",27.2).attr("x2",27.2).attr("y1",yb(k)).attr("y2",yb(k+g[1]-1)+yb.bandwidth()).attr("stroke","#666").attr("stroke-width",1.5);
    txt(25,labelY[i],g[0],{size:g[0].length>4?7.6:8.3,anchor:"end"});
    k+=g[1];
  });
  const yU=d3.scaleLinear().domain([0,891]).range([590,887]);
  const xW=d3.scaleLinear().domain([0,720]).range([0,240]);
  const xK=d3.scaleLinear().domain([0,720]).range([220,460]);
  umapClusters.forEach(c=>{
    [[c[0],xW],[c[1],xK]].forEach(([pts,x])=>{
      svg.append("g").attr("fill",c[2]).selectAll("circle").data(pts).join("circle")
        .attr("cx",d=>x(d[0])).attr("cy",d=>yU(d[1])).attr("r",1.25);
    });
  });
  txt(243,604.5,"Lin<sup>-</sup>, 20 weeks post-pIpC",{size:12});
  svg.append("path").attr("d","M160,627.3V619.3H327.3V627.3M244,619.3V612.7").attr("fill","none").attr("stroke","#555").attr("stroke-width",1.2);
  txt(160,637,"WT",{size:11});txt(330,637,"<i>Tet2</i> KO",{size:11});
  txt(160,651,"(2,478 cells sampled)",{size:10,style:"italic",fill:GREY});txt(330,651,"(2,478 cells sampled)",{size:10,style:"italic",fill:GREY});
  svg.append("path").attr("d","M32.7,832V871.7H72").attr("fill","none").attr("stroke","#333").attr("stroke-width",1.2);
  svg.append("path").attr("d","M32.7,828L29,836H36.4ZM76.7,871.7L68.7,868V875.4Z").attr("fill","#333");
  txt(22.7,856,"UMAP2",{size:9.8,rotate:-90});txt(53,881,"UMAP1",{size:9.6});
})();

// ---------- panel f ----------
(function(){
  const y=d3.scaleLinear().domain([-2,2]).range([752.7,633.3]);
  const x=d3.scalePoint().domain(freqCats).range([538.3,676.7]);
  const ax=svg.append("g").attr("transform","translate(516.7,0)").call(d3.axisLeft(y).tickValues([-2,-1,0,1,2]).tickSize(4).tickSizeOuter(0).tickFormat(d3.format("d")));
  ax.selectAll("text").attr("font-size",10.5).attr("fill",INK).attr("font-family","Liberation Sans");
  ax.selectAll("line,path").attr("stroke","#333").attr("stroke-width",1.3);
  svg.selectAll("rect.f").data(freqVals).join("rect").attr("class","f")
    .attr("x",(d,i)=>x(freqCats[i])-12.4).attr("width",24.8)
    .attr("y",d=>y(Math.max(0,d))).attr("height",d=>Math.abs(y(d)-y(0)))
    .attr("fill",(d,i)=>freqColors[i]).attr("stroke","#2d2d2d").attr("stroke-width",1.1);
  const xa=svg.append("g").attr("transform","translate(0,759.3)").call(d3.axisBottom(x).tickSize(3).tickSizeOuter(0).tickFormat(""));
  xa.selectAll("line,path").attr("stroke","#555").attr("stroke-width",1.3);
  freqCats.forEach(c=>{
    txt(x(c)+3,768,c,{size:11,anchor:"end",rotate:-45});
  });
  txt(478.3,691.7,"Cluster frequency",{size:12,rotate:-90});
  txt(492.7,691.7,"log<sub>2</sub>(<i>Tet2</i> KO / WT)",{size:12,rotate:-90});
  const ann=[["Mono-1",1.84,2.17,"<i>P</i> = 1 x 10<sup>-5</sup>",546.7,624],["Mono-3",.98,1.36,"<i>P</i> = 5 x 10<sup>-4</sup>",601.7,646],["Ery-2",-.7,-1.06,"<i>P</i> = 5.2 x 10<sup>-3</sup>",626.7,731.7],["Ery-3",-1.12,-1.51,"<i>P</i> = 1 x 10<sup>-5</sup>",686,746.7]];
  ann.forEach(a=>{
    svg.append("line").attr("x1",x(a[0])).attr("x2",x(a[0])).attr("y1",y(a[1])).attr("y2",y(a[2])).attr("stroke","#333").attr("stroke-width",1.1).attr("stroke-dasharray","2,1.6");
    txt(a[4],a[5],a[3],{size:10,fill:GREY});
  });
})();
</script></body></html>
